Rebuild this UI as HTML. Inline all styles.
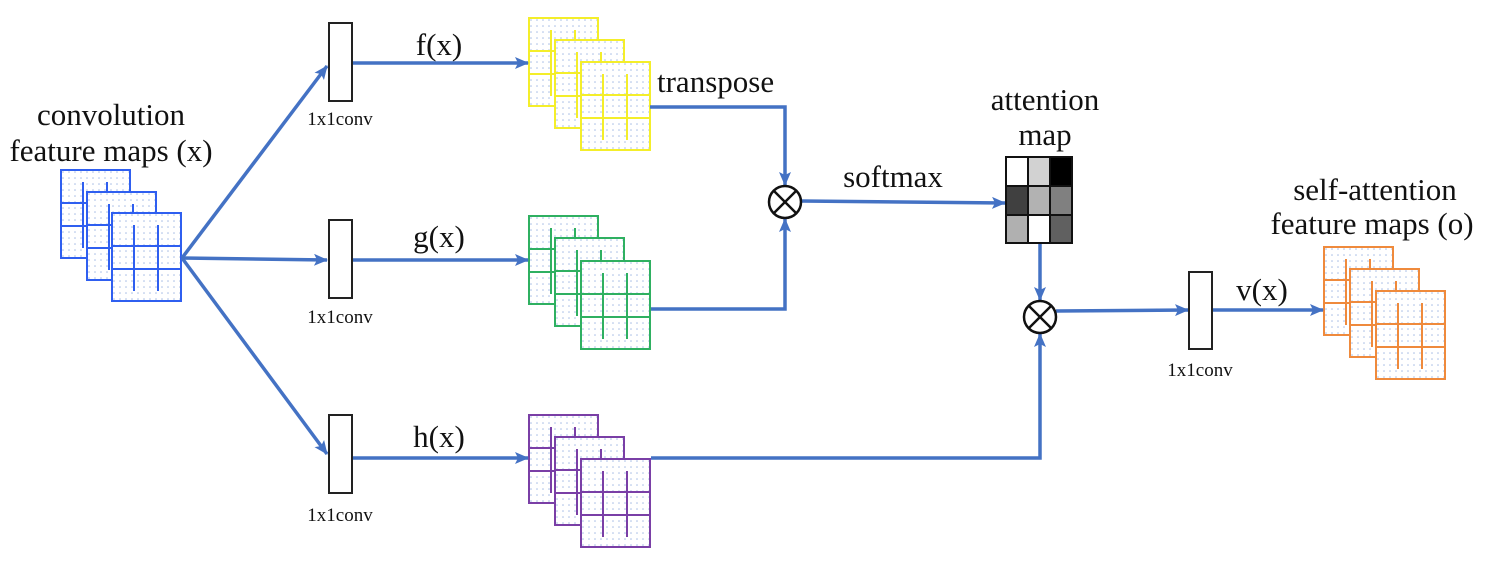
<!DOCTYPE html>
<html><head><meta charset="utf-8"><style>
html,body{margin:0;padding:0;background:#fff}
svg{display:block}
text{font-family:"Liberation Serif",serif;fill:#111}
</style></head><body>
<svg width="1492" height="566" viewBox="0 0 1492 566" xmlns="http://www.w3.org/2000/svg">
<defs>
<pattern id="dots" width="6" height="6" patternUnits="userSpaceOnUse">
<rect width="6" height="6" fill="#fff"/><circle cx="2" cy="2" r="0.8" fill="#a8bde6"/>
</pattern>
<marker id="ar" markerWidth="14" markerHeight="12" refX="13" refY="6" orient="auto" markerUnits="userSpaceOnUse">
<path d="M0,0 L14,6 L0,12 L3,6 Z" fill="#4472c4"/>
</marker>
<g id="fr">
<rect x="0" y="0" width="69" height="88" fill="url(#dots)" stroke-width="2"/>
<line x1="0" y1="33" x2="69" y2="33" stroke-width="2"/>
<line x1="0" y1="56" x2="69" y2="56" stroke-width="2"/>
<line x1="22" y1="12" x2="22" y2="78" stroke-width="2"/>
<line x1="46" y1="12" x2="46" y2="78" stroke-width="2"/>
</g>
</defs>

<g stroke="#2f5ff0">
<use href="#fr" x="61" y="170"/><use href="#fr" x="87" y="192"/><use href="#fr" x="112" y="213"/>
</g>
<g stroke="#f4ee2a">
<use href="#fr" x="529" y="18"/><use href="#fr" x="555" y="40"/><use href="#fr" x="581" y="62"/>
</g>
<g stroke="#2fb061">
<use href="#fr" x="529" y="216"/><use href="#fr" x="555" y="238"/><use href="#fr" x="581" y="261"/>
</g>
<g stroke="#7a3fa6">
<use href="#fr" x="529" y="415"/><use href="#fr" x="555" y="437"/><use href="#fr" x="581" y="459"/>
</g>
<g stroke="#ef8a3c">
<use href="#fr" x="1324" y="247"/><use href="#fr" x="1350" y="269"/><use href="#fr" x="1376" y="291"/>
</g>

<g stroke="#4472c4" stroke-width="3.5" fill="none">
<line x1="182" y1="258" x2="327" y2="66" marker-end="url(#ar)"/>
<line x1="182" y1="258" x2="327" y2="260" marker-end="url(#ar)"/>
<line x1="182" y1="258" x2="327" y2="454" marker-end="url(#ar)"/>
<line x1="352" y1="63" x2="528" y2="63" marker-end="url(#ar)"/>
<line x1="352" y1="260" x2="528" y2="260" marker-end="url(#ar)"/>
<line x1="352" y1="458" x2="528" y2="458" marker-end="url(#ar)"/>
<polyline points="650,107 785,107 785,185" marker-end="url(#ar)"/>
<polyline points="651,309 785,309 785,219" marker-end="url(#ar)"/>
<line x1="801" y1="201" x2="1005" y2="203" marker-end="url(#ar)"/>
<line x1="1040" y1="244" x2="1040" y2="300" marker-end="url(#ar)"/>
<polyline points="651,458 1040,458 1040,334" marker-end="url(#ar)"/>
<line x1="1056" y1="311" x2="1188" y2="310" marker-end="url(#ar)"/>
<line x1="1212" y1="310" x2="1323" y2="310" marker-end="url(#ar)"/>
</g>

<g fill="#fff" stroke="#222" stroke-width="2">
<rect x="329" y="23" width="23" height="78"/>
<rect x="329" y="220" width="23" height="78"/>
<rect x="329" y="415" width="23" height="78"/>
<rect x="1189" y="272" width="23" height="77"/>
</g>

<g fill="#fff" stroke="#111" stroke-width="2.5">
<circle cx="785" cy="202" r="16"/>
<line x1="774" y1="191" x2="796" y2="213"/><line x1="796" y1="191" x2="774" y2="213"/>
<circle cx="1040" cy="317" r="16"/>
<line x1="1029" y1="306" x2="1051" y2="328"/><line x1="1051" y1="306" x2="1029" y2="328"/>
</g>

<g stroke="#111" stroke-width="2">
<rect x="1006" y="157" width="22" height="29" fill="#ffffff"/>
<rect x="1028" y="157" width="22" height="29" fill="#d2d2d2"/>
<rect x="1050" y="157" width="22" height="29" fill="#000"/>
<rect x="1006" y="186" width="22" height="29" fill="#404040"/>
<rect x="1028" y="186" width="22" height="29" fill="#b2b2b2"/>
<rect x="1050" y="186" width="22" height="29" fill="#808080"/>
<rect x="1006" y="215" width="22" height="28" fill="#b0b0b0"/>
<rect x="1028" y="215" width="22" height="28" fill="#ffffff"/>
<rect x="1050" y="215" width="22" height="28" fill="#606060"/>
</g>

<g font-size="31" text-anchor="middle">
<text x="111" y="125">convolution</text>
<text x="111" y="161">feature maps (x)</text>
<text x="439" y="55">f(x)</text>
<text x="439" y="247">g(x)</text>
<text x="439" y="447">h(x)</text>
<text x="893" y="187">softmax</text>
<text x="1045" y="110">attention</text>
<text x="1045" y="145">map</text>
<text x="1375" y="200">self-attention</text>
<text x="1372" y="234">feature maps (o)</text>
<text x="1262" y="300">v(x)</text>
<text x="657" y="92" text-anchor="start">transpose</text>
</g>
<g font-size="19" text-anchor="middle" fill="#333">
<text x="340" y="125">1x1conv</text>
<text x="340" y="323">1x1conv</text>
<text x="340" y="521">1x1conv</text>
<text x="1200" y="376">1x1conv</text>
</g>
</svg>
</body></html>
